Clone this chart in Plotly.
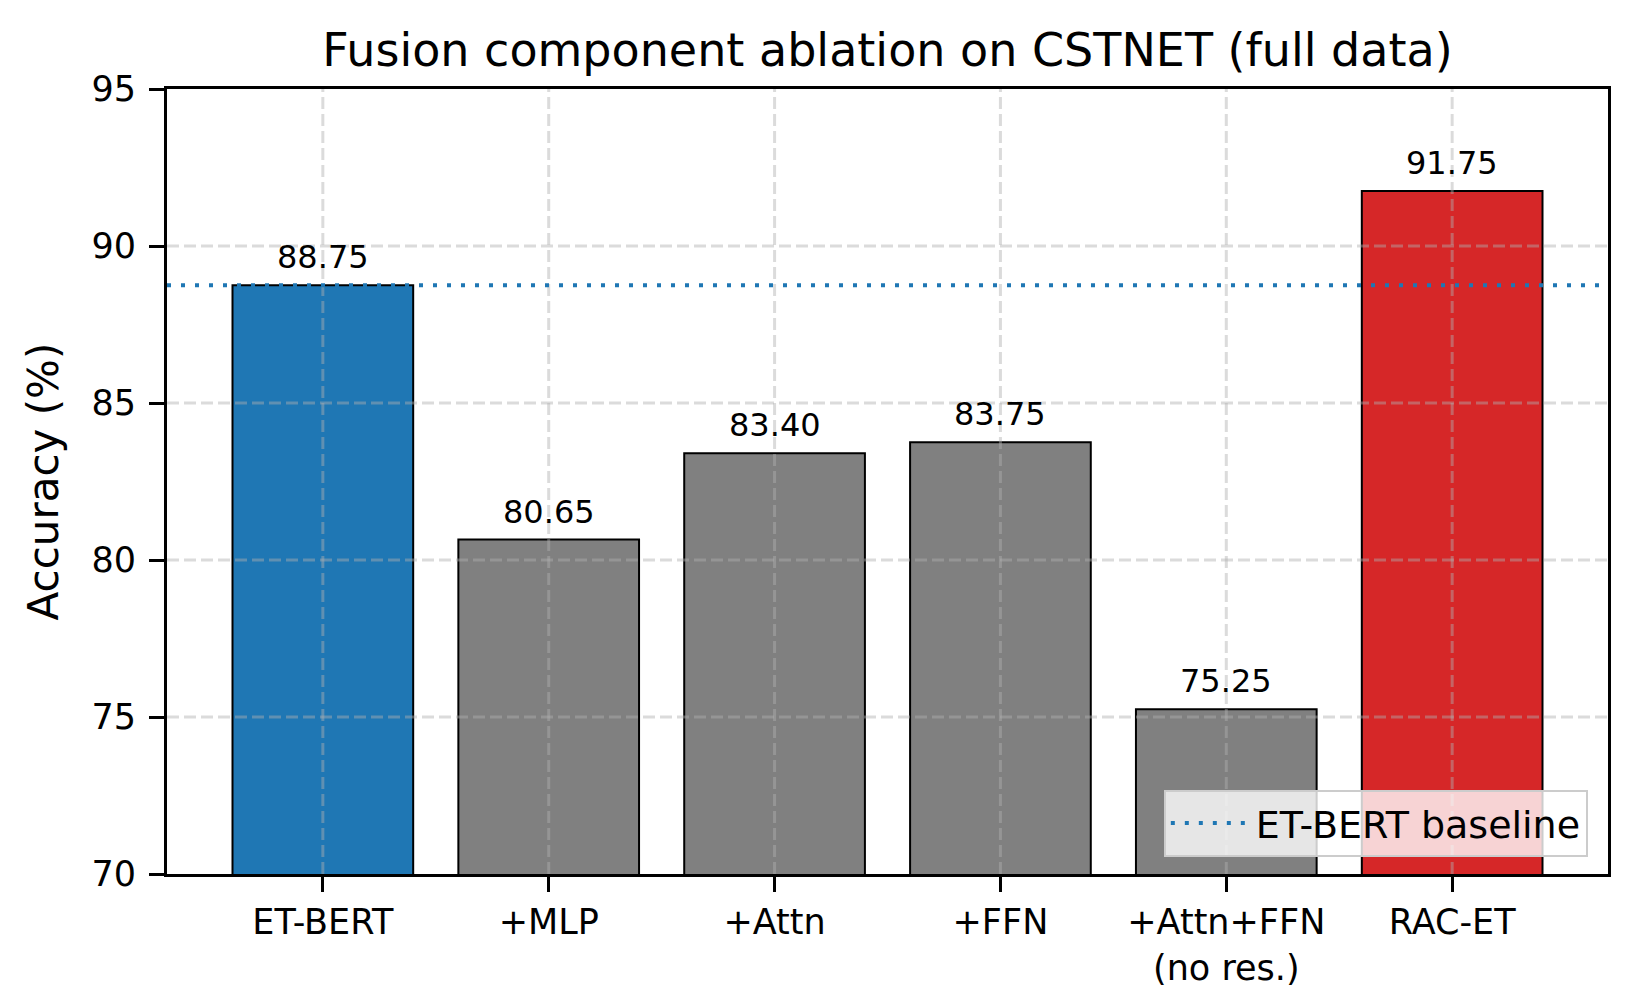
import plotly.graph_objects as go

categories = ["ET-BERT", "+MLP", "+Attn", "+FFN", "+Attn+FFN<br>(no res.)", "RAC-ET"]
accuracy = [88.75, 80.65, 83.40, 83.75, 75.25, 91.75]
bar_colors = ["#1f77b4", "#808080", "#808080", "#808080", "#808080", "#d62728"]
baseline_value = accuracy[0]
baseline_name = "ET-BERT baseline"
y_ticks = [70, 75, 80, 85, 90, 95]

FONT = "DejaVu Sans"
GRID = "rgba(176,176,176,0.45)"
OFF = 8  # default page body margin

fig = go.Figure()
fig.add_trace(go.Bar(
    x=list(range(len(categories))), y=accuracy,
    marker=dict(color=bar_colors, line=dict(color="black", width=2)),
    width=0.8, showlegend=False,
))
# legend-only entry for baseline
fig.add_trace(go.Scatter(
    x=[None], y=[None], mode="lines", name=baseline_name,
    line=dict(color="#1f77b4", width=4, dash="4px,10px"),
))

shapes = []
# gridlines drawn above bars (as in the reference)
for i in range(len(categories)):
    shapes.append(dict(type="line", xref="x", yref="paper", x0=i, x1=i, y0=0, y1=1,
                       line=dict(color=GRID, width=3, dash="12px,5px"), layer="above"))
for t in y_ticks[1:-1]:
    shapes.append(dict(type="line", xref="paper", yref="y", x0=0, x1=1, y0=t, y1=t,
                       line=dict(color=GRID, width=3, dash="12px,5px"), layer="above"))
# baseline
shapes.append(dict(type="line", xref="paper", yref="y", x0=0, x1=1,
                   y0=baseline_value, y1=baseline_value,
                   line=dict(color="#1f77b4", width=4, dash="4px,10px"), layer="above"))

annotations = []
for i, v in enumerate(accuracy):
    annotations.append(dict(x=i, y=v, text=f"{v:.2f}", showarrow=False,
                            yanchor="bottom", yshift=7,
                            font=dict(family=FONT, size=32, color="black")))

fig.update_layout(
    width=1637 - OFF, height=1007 - OFF,
    margin=dict(l=167 - OFF, r=29, t=89 - OFF, b=133),
    paper_bgcolor="white", plot_bgcolor="white",
    font=dict(family=FONT, color="black"),
    title=dict(text="Fusion component ablation on CSTNET (full data)",
               x=0.5, xref="paper", xanchor="center",
               y=1 - (50 - OFF) / (1007 - OFF), yref="container", yanchor="middle",
               font=dict(family=FONT, size=46, color="black")),
    xaxis=dict(
        tickmode="array", tickvals=list(range(len(categories))), ticktext=categories,
        range=[-0.69, len(categories) - 1 + 0.69],
        showgrid=False, zeroline=False,
        showline=True, linecolor="black", linewidth=3, mirror=True,
        ticks="outside", ticklen=15, tickwidth=3, tickcolor="black",
        tickfont=dict(family=FONT, size=35, color="black"),
    ),
    yaxis=dict(
        range=[70, 95], tickmode="array", tickvals=y_ticks,
        showgrid=False, zeroline=False,
        showline=True, linecolor="black", linewidth=3, mirror=True,
        ticks="outside", ticklen=15, tickwidth=3, tickcolor="black",
        ticklabelstandoff=6,
        tickfont=dict(family=FONT, size=35, color="black"),
        title=dict(text="Accuracy (%)", font=dict(family=FONT, size=42, color="black"),
                   standoff=20),
    ),
    legend=dict(
        x=0.986, y=0.022, xanchor="right", yanchor="bottom",
        bgcolor="rgba(255,255,255,0.8)", bordercolor="#cccccc", borderwidth=2,
        font=dict(family=FONT, size=38, color="black"),
        itemwidth=80,
    ),
    shapes=shapes,
    annotations=annotations,
    showlegend=True,
)

fig.write_html("out.html")
